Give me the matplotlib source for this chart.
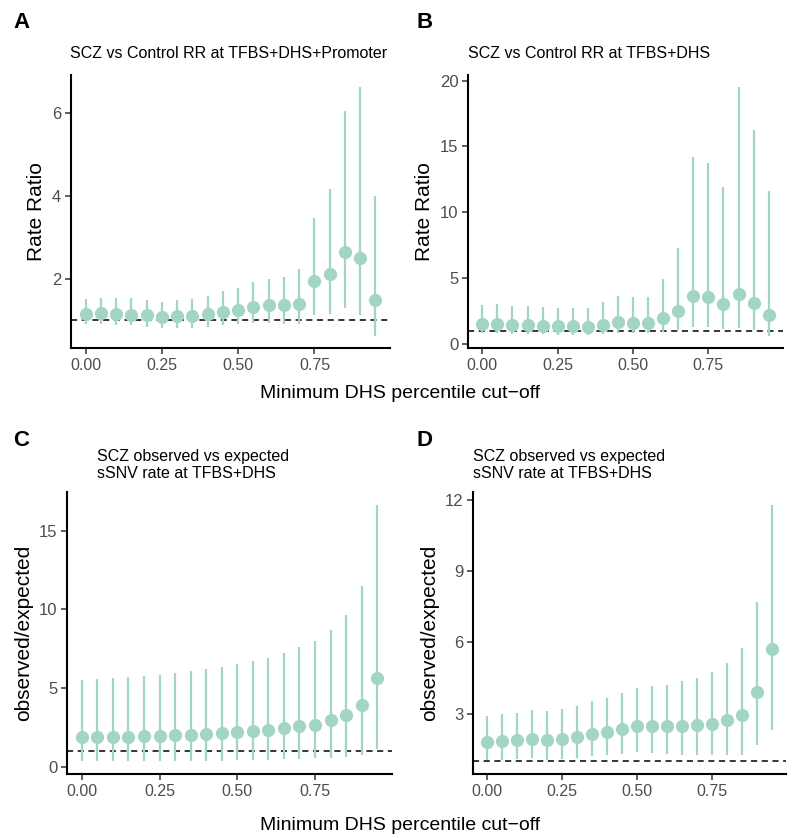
import matplotlib
matplotlib.use("Agg")
import matplotlib.pyplot as plt
import numpy as np

# 数据
cutoff = [0.00, 0.05, 0.10, 0.15, 0.20, 0.25, 0.30, 0.35, 0.40, 0.45,
          0.50, 0.55, 0.60, 0.65, 0.70, 0.75, 0.80, 0.85, 0.90, 0.95]

# A: TFBS+DHS+Promoter
a_est = [1.15, 1.17, 1.15, 1.13, 1.11, 1.07, 1.09, 1.09, 1.14, 1.19,
         1.25, 1.32, 1.35, 1.35, 1.38, 1.93, 2.11, 2.64, 2.51, 1.48]
a_hi = [1.51, 1.54, 1.53, 1.52, 1.49, 1.44, 1.49, 1.50, 1.59, 1.69,
        1.78, 1.91, 1.98, 2.05, 2.23, 3.46, 4.16, 6.05, 6.63, 4.00]
a_lo = [0.89, 0.90, 0.88, 0.87, 0.83, 0.80, 0.81, 0.81, 0.83, 0.87,
        0.89, 0.92, 0.93, 0.90, 0.89, 1.13, 1.15, 1.30, 1.12, 0.62]

# B: TFBS+DHS
b_est = [1.51, 1.51, 1.44, 1.44, 1.39, 1.36, 1.36, 1.31, 1.46, 1.64,
         1.59, 1.59, 1.99, 2.52, 3.66, 3.56, 3.05, 3.78, 3.10, 2.19]
b_hi = [2.98, 3.03, 2.85, 2.85, 2.80, 2.75, 2.75, 2.70, 3.20, 3.66,
        3.58, 3.58, 4.92, 7.29, 14.17, 13.77, 11.90, 19.49, 16.24, 11.65]
b_lo = [0.83, 0.83, 0.73, 0.73, 0.73, 0.68, 0.68, 0.68, 0.73, 0.81,
        0.81, 0.81, 0.93, 1.08, 1.31, 1.31, 1.14, 1.19, 1.08, 0.63]

# C: observed vs expected
c_est = [1.87, 1.90, 1.90, 1.92, 1.94, 1.96, 2.00, 2.04, 2.09, 2.15,
         2.19, 2.25, 2.34, 2.44, 2.57, 2.68, 2.97, 3.27, 3.90, 5.67]
c_hi = [5.52, 5.58, 5.65, 5.69, 5.75, 5.84, 5.96, 6.09, 6.19, 6.34,
        6.51, 6.72, 6.93, 7.23, 7.60, 8.01, 8.68, 9.65, 11.48, 16.64]
c_lo = [0.36, 0.36, 0.36, 0.36, 0.36, 0.36, 0.38, 0.38, 0.40, 0.40,
        0.42, 0.44, 0.46, 0.48, 0.53, 0.55, 0.59, 0.65, 0.78, 1.14]

# D: observed vs expected
d_est = [1.80, 1.84, 1.88, 1.94, 1.88, 1.94, 2.02, 2.13, 2.22, 2.34,
         2.48, 2.48, 2.47, 2.50, 2.51, 2.57, 2.72, 2.94, 3.91, 5.72]
d_hi = [2.92, 2.99, 3.04, 3.17, 3.10, 3.20, 3.34, 3.52, 3.66, 3.87,
        4.09, 4.15, 4.22, 4.37, 4.51, 4.75, 5.14, 5.78, 7.71, 11.80]
d_lo = [1.03, 1.07, 1.10, 1.13, 1.04, 1.10, 1.14, 1.20, 1.25, 1.31,
        1.38, 1.35, 1.31, 1.28, 1.27, 1.24, 1.24, 1.27, 1.70, 2.33]

x_ticks = [0.00, 0.25, 0.50, 0.75]
x_ticklabels = ["0.00", "0.25", "0.50", "0.75"]

W, H = 796, 838
PT_COLOR = "#a3d5c4"
TICK_COLOR = "#4d4d4d"
plt.rcParams['font.family'] = ['Liberation Sans', 'DejaVu Sans']


def add_panel(fig, box, est, lo, hi, yticks, ylabel):
    # box: 像素坐标 (left, right, top, bottom)
    l, r, t, b = box
    ax = fig.add_axes([l / W, 1 - b / H, (r - l) / W, (b - t) / H])
    ax.vlines(cutoff, lo, hi, color=PT_COLOR, lw=1.6, zorder=2)
    ax.plot(cutoff, est, 'o', color=PT_COLOR, ms=9.5, mec='none', zorder=3)
    # ggplot风格的5%扩展
    xmin, xmax = min(cutoff), max(cutoff)
    xr = xmax - xmin
    ax.set_xlim(xmin - 0.05 * xr, xmax + 0.05 * xr)
    ymin, ymax = min(min(lo), 1), max(hi)
    yr = ymax - ymin
    ax.set_ylim(ymin - 0.05 * yr, ymax + 0.05 * yr)
    ax.axhline(1, color='black', ls=(0, (4, 3)), lw=1.1, zorder=1)
    ax.set_xticks(x_ticks)
    ax.set_xticklabels(x_ticklabels, fontsize=11.5, color=TICK_COLOR)
    ax.set_yticks(yticks)
    ax.set_yticklabels([str(v) for v in yticks], fontsize=12, color=TICK_COLOR)
    ax.tick_params(length=4, width=1.1, color='#333333', pad=3)
    for s in ['top', 'right']:
        ax.spines[s].set_visible(False)
    for s in ['left', 'bottom']:
        ax.spines[s].set_linewidth(1.5)
        ax.spines[s].set_color('black')
    ax.set_ylabel(ylabel, fontsize=15, labelpad=4)
    return ax


def main():
    fig = plt.figure(figsize=(W / 100, H / 100), dpi=100)

    add_panel(fig, (71, 390, 75, 348), a_est, a_lo, a_hi, [2, 4, 6], "Rate Ratio")
    add_panel(fig, (468, 783, 75, 348), b_est, b_lo, b_hi, [0, 5, 10, 15, 20], "Rate Ratio")
    add_panel(fig, (67, 392, 492, 774), c_est, c_lo, c_hi, [0, 5, 10, 15], "observed/expected")
    add_panel(fig, (473, 786, 492, 774), d_est, d_lo, d_hi, [3, 6, 9, 12], "observed/expected")

    # 面板字母
    for lab, x, y in [("A", 13, 23), ("B", 416, 23), ("C", 13, 440), ("D", 416, 440)]:
        fig.text(x / W, 1 - y / H, lab, fontsize=16, fontweight='bold', va='center', ha='left')

    # 标题
    fig.text(70 / W, 1 - 53 / H, "SCZ vs Control RR at TFBS+DHS+Promoter", fontsize=11.5, va='center')
    fig.text(468 / W, 1 - 53 / H, "SCZ vs Control RR at TFBS+DHS", fontsize=11.5, va='center')
    fig.text(97 / W, 1 - 465 / H, "SCZ observed vs expected\nsSNV rate at TFBS+DHS",
             fontsize=11.5, va='center', linespacing=1.1)
    fig.text(473 / W, 1 - 465 / H, "SCZ observed vs expected\nsSNV rate at TFBS+DHS",
             fontsize=11.5, va='center', linespacing=1.1)

    # 共享x轴标题
    fig.text(400 / W, 1 - 393 / H, "Minimum DHS percentile cut\u2212off",
             fontsize=14, ha='center', va='center')
    fig.text(400 / W, 1 - 825 / H, "Minimum DHS percentile cut\u2212off",
             fontsize=14, ha='center', va='center')

    fig.savefig("out.png", dpi=100, facecolor='white')


if __name__ == '__main__':
    main()
